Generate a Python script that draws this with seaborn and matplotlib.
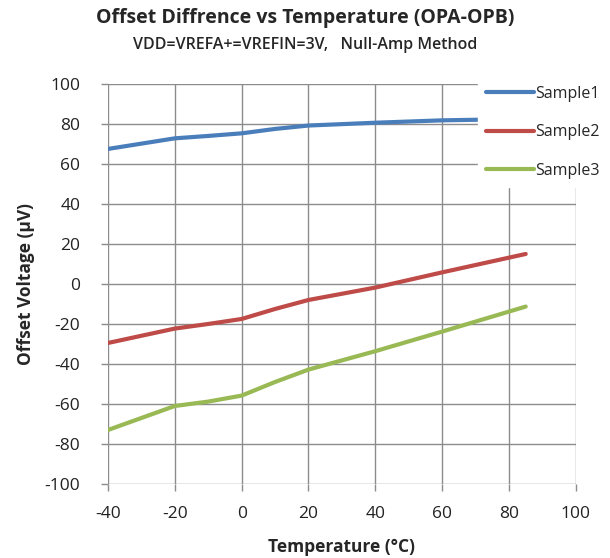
import numpy as np
import pandas as pd
import seaborn as sns
import matplotlib.pyplot as plt

temps = [-40, -20, -10, 0, 10, 20, 40, 60, 85]
sample1 = [67.5, 72.8, 74.0, 75.3, 77.5, 79.2, 80.6, 81.8, 82.5]
sample2 = [-29.5, -22.3, -20.0, -17.5, -12.5, -8.0, -1.8, 5.8, 15.0]
sample3 = [-73.0, -61.0, -58.8, -55.8, -49.0, -42.8, -33.6, -23.8, -11.3]
series = ['Sample1', 'Sample2', 'Sample3']
colors = ['#4a7ebb', '#be4b48', '#98b954']

x_ticks = [-40, -20, 0, 20, 40, 60, 80, 100]
y_ticks = [-100, -80, -60, -40, -20, 0, 20, 40, 60, 80, 100]

df = pd.DataFrame({'temp': temps * 3,
                   'offset': sample1 + sample2 + sample3,
                   'sample': [s for s in series for _ in temps]})

sns.set_style('white')
plt.rcParams['font.family'] = ['Open Sans', 'DejaVu Sans']
plt.rcParams['axes.unicode_minus'] = False

fig = plt.figure(figsize=(6.1, 5.58), dpi=100)
ax = fig.add_axes([0.177, 0.1326, 0.767, 0.717])

sns.lineplot(data=df, x='temp', y='offset', hue='sample', palette=colors,
             linewidth=3, ax=ax, legend=False, zorder=3)

ax.set_xlim(-40, 100)
ax.set_ylim(-100, 100)
ax.set_xticks(x_ticks)
ax.set_yticks(y_ticks)
ax.grid(True, color='#8c8c8c', linewidth=1)
for s in ax.spines.values():
    s.set_visible(False)
ax.tick_params(axis='both', length=5, width=1, color='#8c8c8c', labelsize=12.5,
               labelcolor='#222222')
ax.tick_params(axis='y', pad=15)
ax.tick_params(axis='x', pad=11)
ax.tick_params(left=True, bottom=True)

ax.set_xlabel('Temperature (°C)', fontsize=12.5, fontweight='bold', labelpad=11)
ax.set_ylabel('Offset Voltage (µV)', fontsize=12.5, fontweight='bold', labelpad=7)

fig.text(0.5, 0.967, 'Offset Diffrence vs Temperature (OPA-OPB)', ha='center', va='center',
         fontsize=14, fontweight='bold')
fig.text(0.5, 0.92, 'VDD=VREFA+=VREFIN=3V,   Null-Amp Method', ha='center', va='center',
         fontsize=11.5, fontweight='semibold')

handles = [plt.Line2D([], [], color=c, linewidth=3) for c in colors]
leg = ax.legend(handles, series, loc='upper left', bbox_to_anchor=(478 / 610, 1 - 78 / 558),
                bbox_transform=fig.transFigure, frameon=True, framealpha=1, edgecolor='white',
                fancybox=False, fontsize=11.5, handlelength=3.0, handletextpad=0.1,
                labelspacing=1.4, borderaxespad=0, borderpad=0.5)
leg.set_zorder(10)

fig.savefig('out.png', dpi=100)
